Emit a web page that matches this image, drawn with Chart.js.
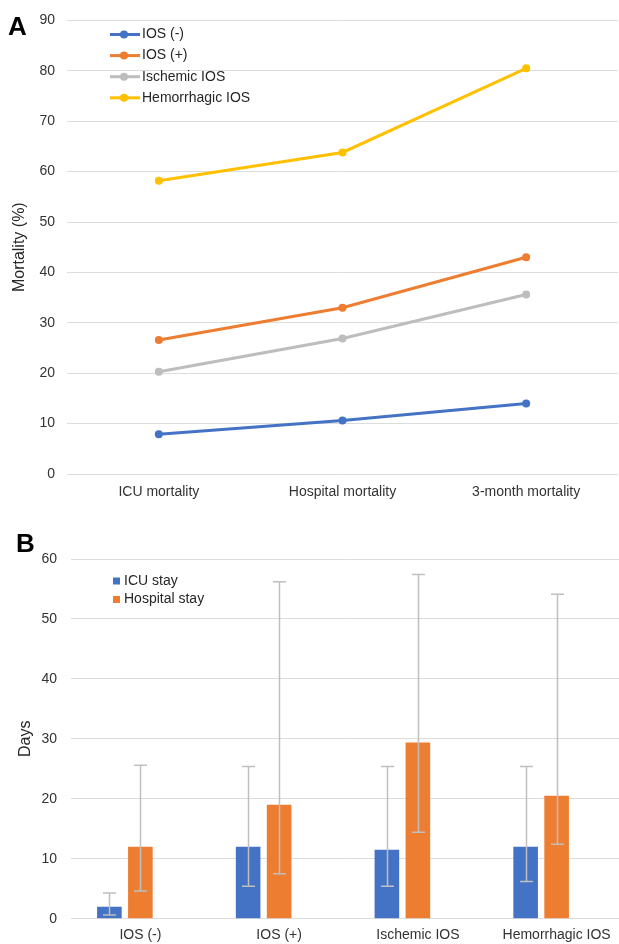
<!DOCTYPE html>
<html>
<head>
<meta charset="utf-8">
<title>IOS mortality and length of stay</title>
<script src="https://cdn.jsdelivr.net/npm/chart.js@4/dist/chart.umd.min.js"></script>
<style>
  html, body { margin: 0; padding: 0; background: #fff; }
  body { width: 619px; height: 944px; overflow: hidden; position: relative; }
  .panel { position: absolute; left: 0; overflow: hidden; }
  #panelA { top: 0; width: 619px; height: 515px; }
  #panelB { top: 515px; width: 619px; height: 429px; }
</style>
</head>
<body>
<div class="panel" id="panelA"><canvas id="mortalityChart" width="619" height="515"></canvas></div>
<div class="panel" id="panelB"><canvas id="stayChart" width="627" height="429"></canvas></div>
<script>
// Panel A - mortality (%)
const mortalityLabels = ['ICU mortality', 'Hospital mortality', '3-month mortality'];
const iosNeg = [7.9, 10.6, 14.0];
const iosPos = [26.6, 33.0, 43.0];
const ischemicIos = [20.3, 26.9, 35.6];
const hemorrhagicIos = [58.2, 63.8, 80.5];

// Panel B - length of stay (days), bar = median, whiskers = low/high
const stayLabels = ['IOS (-)', 'IOS (+)', 'Ischemic IOS', 'Hemorrhagic IOS'];
const icuStay = [2.0, 12.0, 11.5, 12.0];
const icuStayLow = [0.6, 5.4, 5.4, 6.2];
const icuStayHigh = [4.3, 25.4, 25.4, 25.4];
const hospitalStay = [12.0, 19.0, 29.4, 20.5];
const hospitalStayLow = [4.6, 7.5, 14.4, 12.4];
const hospitalStayHigh = [25.6, 56.2, 57.4, 54.1];

const FONT = '"Liberation Sans", Arial, sans-serif';
Chart.defaults.font.family = FONT;
Chart.defaults.font.size = 14;
Chart.defaults.color = '#333333';

const BLUE = '#4472C4', ORANGE = '#ED7D31', GRAY = '#BDBDBD', GOLD = '#FFC000';
const GRID = '#dcdcdc';

// legend drawn inside the plot area + panel letter
const insideLegend = {
  id: 'insideLegend',
  afterDraw(chart, args, opts) {
    const ctx = chart.ctx;
    ctx.save();
    ctx.font = '14px ' + FONT;
    ctx.textBaseline = 'middle';
    let row = 0;
    chart.data.datasets.forEach(ds => {
      if (!ds.label) return;
      const y = opts.y + row * opts.rowGap;
      const color = ds.borderColor || ds.backgroundColor;
      if (opts.marker === 'line') {
        ctx.strokeStyle = color;
        ctx.lineWidth = 3;
        ctx.beginPath();
        ctx.moveTo(opts.x, y);
        ctx.lineTo(opts.x + 30, y);
        ctx.stroke();
        ctx.fillStyle = color;
        ctx.beginPath();
        ctx.arc(opts.x + 14, y, 4, 0, Math.PI * 2);
        ctx.fill();
      } else {
        ctx.fillStyle = color;
        ctx.fillRect(opts.x, y - 3.5, 7, 7);
      }
      ctx.fillStyle = '#262626';
      ctx.fillText(ds.label, opts.textX, y);
      row++;
    });
    if (opts.letter) {
      ctx.font = 'bold 26px ' + FONT;
      ctx.fillStyle = '#000';
      ctx.textBaseline = 'alphabetic';
      ctx.fillText(opts.letter, opts.letterX, opts.letterY);
    }
    ctx.restore();
  }
};

// asymmetric error whiskers for bars
const errorBars = {
  id: 'errorBars',
  afterDatasetsDraw(chart, args, opts) {
    const ctx = chart.ctx;
    const yScale = chart.scales.y;
    ctx.save();
    ctx.strokeStyle = opts.color;
    ctx.lineWidth = opts.width;
    chart.data.datasets.forEach((ds, i) => {
      if (!ds.errLow) return;
      const meta = chart.getDatasetMeta(i);
      meta.data.forEach((bar, j) => {
        const x = Math.round(bar.x) + 0.5;
        const yLow = yScale.getPixelForValue(ds.errLow[j]);
        const yHigh = yScale.getPixelForValue(ds.errHigh[j]);
        ctx.beginPath();
        ctx.moveTo(x, yLow);
        ctx.lineTo(x, yHigh);
        ctx.moveTo(x - opts.cap, yLow);
        ctx.lineTo(x + opts.cap, yLow);
        ctx.moveTo(x - opts.cap, yHigh);
        ctx.lineTo(x + opts.cap, yHigh);
        ctx.stroke();
      });
    });
    ctx.restore();
  }
};

function lineSet(label, data, color) {
  return {
    label: label, data: data,
    borderColor: color, backgroundColor: color,
    borderWidth: 3, pointRadius: 4, pointHoverRadius: 4,
    pointBackgroundColor: color, pointBorderColor: color, pointBorderWidth: 0,
    tension: 0, clip: false
  };
}

new Chart(document.getElementById('mortalityChart'), {
  type: 'line',
  data: {
    labels: mortalityLabels,
    datasets: [
      lineSet('IOS (-)', iosNeg, BLUE),
      lineSet('IOS (+)', iosPos, ORANGE),
      lineSet('Ischemic IOS', ischemicIos, GRAY),
      lineSet('Hemorrhagic IOS', hemorrhagicIos, GOLD)
    ]
  },
  options: {
    responsive: false,
    animation: false,
    layout: { autoPadding: false, padding: { top: 18, right: 1, left: 0, bottom: 0 } },
    plugins: {
      legend: { display: false },
      tooltip: { enabled: false },
      insideLegend: { marker: 'line', x: 110, textX: 142, y: 34.5, rowGap: 21.1, letter: 'A', letterX: 8, letterY: 35 }
    },
    scales: {
      x: {
        offset: true,
        grid: { display: false, drawTicks: false },
        border: { display: false },
        ticks: { padding: 10, color: '#333333', font: { size: 14 } },
        afterFit: s => { s.height = 41; }
      },
      y: {
        min: 0, max: 90,
        ticks: { stepSize: 10, padding: 12, color: '#333333', font: { size: 14 } },
        grid: { color: GRID, lineWidth: 1, drawTicks: false },
        border: { display: false },
        title: { display: true, text: 'Mortality (%)', color: '#262626', font: { size: 16 }, padding: { top: 9.5, bottom: 0 } },
        afterFit: s => { s.width = 67; }
      }
    }
  },
  plugins: [insideLegend]
});

new Chart(document.getElementById('stayChart'), {
  type: 'bar',
  data: {
    labels: stayLabels,
    datasets: [
      { label: 'ICU stay', data: icuStay, backgroundColor: BLUE, errLow: icuStayLow, errHigh: icuStayHigh },
      { label: 'Hospital stay', data: hospitalStay, backgroundColor: ORANGE, errLow: hospitalStayLow, errHigh: hospitalStayHigh },
      // empty third series slot, as in the source figure
      { label: '', data: [null, null, null, null], backgroundColor: 'rgba(0,0,0,0)' }
    ]
  },
  options: {
    responsive: false,
    animation: false,
    categoryPercentage: 0.67,
    barPercentage: 0.794,
    layout: { autoPadding: false, padding: { top: 44, right: 1, left: 0, bottom: 0 } },
    plugins: {
      legend: { display: false },
      tooltip: { enabled: false },
      insideLegend: { marker: 'box', x: 113, textX: 124, y: 66, rowGap: 18.5, letter: 'B', letterX: 16, letterY: 36.5 },
      errorBars: { color: '#bfbfbf', width: 1.5, cap: 6.5 }
    },
    scales: {
      x: {
        grid: { display: false, drawTicks: false },
        border: { display: false },
        ticks: { padding: 8, color: '#333333', font: { size: 14 } },
        afterFit: s => { s.height = 25.3; }
      },
      y: {
        min: 0, max: 60,
        ticks: { stepSize: 10, padding: 14, color: '#333333', font: { size: 14 } },
        grid: { color: GRID, lineWidth: 1, drawTicks: false },
        border: { display: false },
        title: { display: true, text: 'Days', color: '#262626', font: { size: 16 }, padding: { top: 16, bottom: 0 } },
        afterFit: s => { s.width = 71; }
      }
    }
  },
  plugins: [insideLegend, errorBars]
});
</script>
</body>
</html>
